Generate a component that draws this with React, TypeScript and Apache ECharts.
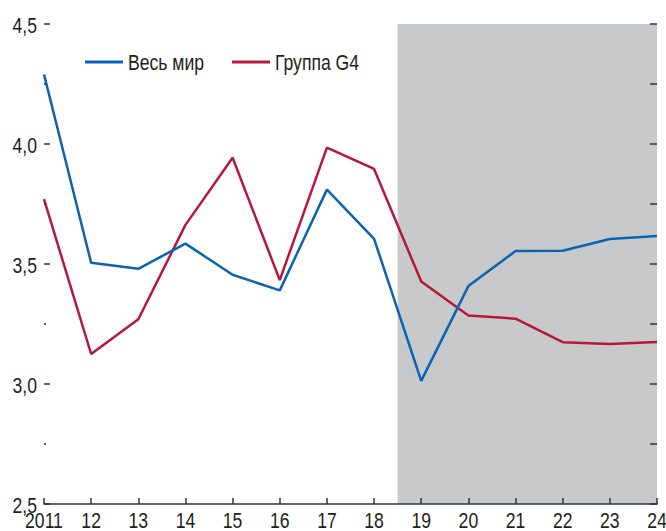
import React, { useEffect, useRef } from "react";
import * as echarts from "echarts";

const years = ["2011", "12", "13", "14", "15", "16", "17", "18", "19", "20", "21", "22", "23", "24"];
const world = [4.29, 3.505, 3.48, 3.585, 3.455, 3.39, 3.81, 3.605, 3.013, 3.408, 3.554, 3.555, 3.604, 3.617];
const g4 = [3.77, 3.125, 3.27, 3.663, 3.943, 3.433, 3.985, 3.896, 3.427, 3.285, 3.272, 3.174, 3.167, 3.175];
const yTicks = [2.5, 3.0, 3.5, 4.0, 4.5];
const seriesNames = ["Весь мир", "Группа G4"];
const forecast = [7.5, 13];

const FONT = "'Liberation Sans', Arial, sans-serif";
const BLUE = "#0a64b4";
const RED = "#b5183a";
const TXT = "#231f20";
const NARROW = 0.8;
const FS = 22;
const GRID = { left: 44, right: 9, top: 24, bottom: 27 };
const W = 666;
const H = 531;

export default function App() {
  const ref = useRef<HTMLDivElement>(null);
  useEffect(() => {
    if (!ref.current) return;
    const chart = echarts.init(ref.current, undefined, { renderer: "svg" });
    const gridW = W - GRID.left - GRID.right;
    const tickStyle = { color: "#333", width: 1.5 };
    chart.setOption({
      animation: false,
      grid: { ...GRID, containLabel: false, outerBoundsMode: "none" },
      xAxis: {
        type: "value",
        min: 0,
        max: years.length - 1,
        interval: 1,
        z: 10,
        axisLine: { show: true, lineStyle: tickStyle },
        axisTick: { show: true, inside: true, length: 6, lineStyle: tickStyle },
        splitLine: { show: false },
        axisLabel: { show: false },
      },
      yAxis: [
        {
          type: "value",
          position: "left",
          min: 2.5,
          max: 4.5,
          interval: 0.5,
          z: 10,
          axisLine: { show: false },
          axisTick: { show: true, inside: true, length: 6, lineStyle: tickStyle },
          minorTick: { show: true, splitNumber: 2, length: 2, lineStyle: tickStyle },
          splitLine: { show: false },
          axisLabel: { show: false },
        },
        {
          type: "value",
          position: "left",
          offset: -gridW,
          min: 2.5,
          max: 4.5,
          interval: 0.25,
          z: 10,
          axisLine: { show: false },
          axisTick: { show: true, inside: false, length: 7, lineStyle: tickStyle },
          splitLine: { show: false },
          axisLabel: { show: false },
        },
      ],
      series: [
        {
          name: "_forecast",
          type: "custom",
          silent: true,
          z: 0,
          data: [forecast],
          renderItem: (params: any, api: any) => {
            const p0 = api.coord([api.value(0), 4.5]);
            const p1 = api.coord([api.value(1), 2.5]);
            return {
              type: "rect",
              shape: { x: p0[0], y: p0[1], width: p1[0] - p0[0], height: p1[1] - p0[1] },
              style: { fill: "#c8c9cb" },
            };
          },
        },
        {
          name: seriesNames[0],
          type: "line",
          data: world.map((v, i) => [i, v]),
          symbol: "none",
          lineStyle: { color: BLUE, width: 2.5 },
          itemStyle: { color: BLUE },
          z: 3,
        },
        {
          name: seriesNames[1],
          type: "line",
          yAxisIndex: 1,
          data: g4.map((v, i) => [i, v]),
          symbol: "none",
          lineStyle: { color: RED, width: 2.5 },
          itemStyle: { color: RED },
          z: 2,
        },
      ],
    });

    const px = (x: number, y: number) => chart.convertToPixel({ gridIndex: 0 }, [x, y]) as number[];
    const graphics: any[] = [];
    years.forEach((lab, i) => {
      const p = px(i, 2.5);
      graphics.push({
        type: "text",
        x: p[0],
        y: 520,
        scaleX: NARROW,
        z: 20,
        style: { text: lab, fontFamily: FONT, fontSize: FS, fill: TXT, align: "center", verticalAlign: "middle" },
      });
    });
    yTicks.forEach((v) => {
      const p = px(0, v);
      graphics.push({
        type: "text",
        x: 37,
        y: p[1] + 1,
        scaleX: NARROW,
        z: 20,
        style: {
          text: v.toFixed(1).replace(".", ","),
          fontFamily: FONT,
          fontSize: FS,
          fill: TXT,
          align: "right",
          verticalAlign: "middle",
        },
      });
    });
    const legendItems = [
      { name: seriesNames[0], color: BLUE, x: 85 },
      { name: seriesNames[1], color: RED, x: 232 },
    ];
    legendItems.forEach((it) => {
      graphics.push({
        type: "line",
        z: 20,
        shape: { x1: it.x, y1: 62, x2: it.x + 38, y2: 62 },
        style: { stroke: it.color, lineWidth: 3 },
      });
      graphics.push({
        type: "text",
        x: it.x + 43,
        y: 62,
        scaleX: NARROW,
        z: 20,
        style: { text: it.name, fontFamily: FONT, fontSize: FS, fill: TXT, align: "left", verticalAlign: "middle" },
      });
    });
    chart.setOption({ graphic: graphics });
    return () => chart.dispose();
  }, []);
  return (
    <div
      ref={ref}
      style={{ position: "fixed", left: 0, top: 0, width: W, height: H, background: "#fff" }}
    />
  );
}
